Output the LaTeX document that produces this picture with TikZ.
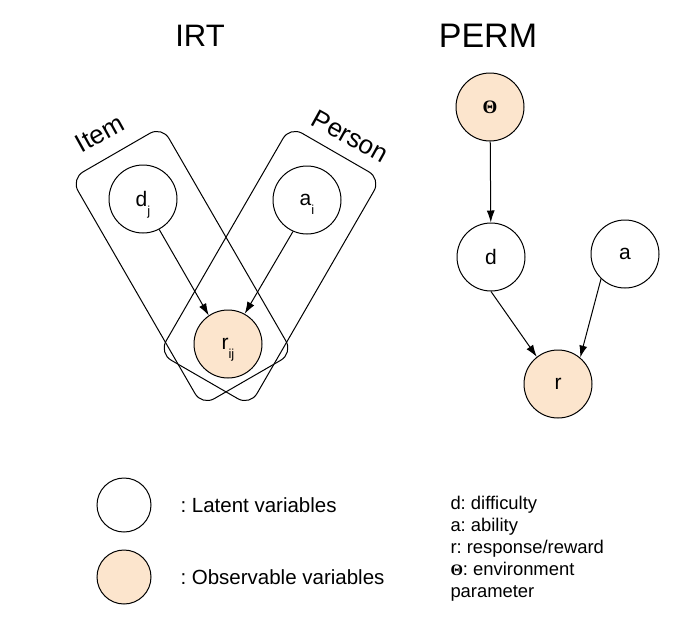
\documentclass[tikz,border=0pt]{standalone}
\usepackage{amsmath}
\usepackage{xcolor}
\usepackage[no-math]{fontspec}
\setmainfont{Liberation Sans}
\newfontfamily\thetafont{Liberation Serif}
\usetikzlibrary{arrows.meta}
\definecolor{obsfill}{RGB}{252,229,205}
\newcommand{\lowsub}[1]{\raisebox{-9pt}[0pt][0pt]{\fontsize{13}{13}\selectfont #1}}
\newcommand{\boldtheta}{{\thetafont\bfseries Θ}}
\frenchspacing

\begin{document}
\begin{tikzpicture}[x=1pt,y=-1pt,line width=1pt,
    var/.style={circle,draw=black,minimum size=68pt,inner sep=0pt,font=\fontsize{21}{25}\selectfont},
    obs/.style={var,fill=obsfill},
    plate/.style={draw=black,rounded corners=14pt,minimum width=105pt,minimum height=262pt},
    >={Latex[length=12pt,width=8pt]}]
    \useasboundingbox (0,0) rectangle (679,643);
    \node[anchor=base,font=\fontsize{31}{36}\selectfont](irt)at(200,46){IRT};
    \node[anchor=base,font=\fontsize{34}{40}\selectfont](perm)at(488,47){PERM};
    \node[plate,rotate=30](item)at(182,266){};
    \node[plate,rotate=-30](person)at(270,266){};
    \node[rotate=29,anchor=base,inner sep=0pt,font=\fontsize{26}{30}\selectfont](itemlab)at(104,141){Item};
    \node[rotate=-29,anchor=base,inner sep=0pt,font=\fontsize{26}{30}\selectfont](personlab)at(346,144){Person};
    \node[var](dj)at(143,199){d\lowsub{j}};
    \node[var](ai)at(307,200){a\lowsub{i}};
    \node[obs](rij)at(228,344){r\lowsub{ij}};
    \node[obs,font=\fontsize{19}{22}\selectfont](th)at(490,107){\boldtheta};
    \node[var](d)at(491,257){d};
    \node[var](a)at(625,254){a};
    \node[obs](r)at(558,384){r};
    \draw[->] (dj.-62) -- (rij.124);
    \draw[->] (ai.-114) -- (rij.61);
    \draw[->] (th) -- (d);
    \draw[->] (d.south) -- (r.128);
    \draw[->] (a.226) -- (r.50);
    \node[var,minimum size=54pt](l1)at(124,505){};
    \node[obs,minimum size=54pt](l2)at(124,577){};
    \node[anchor=west,inner sep=0pt,font=\fontsize{20.5}{24}\selectfont](t1)at(180,505){: Latent variables};
    \node[anchor=west,inner sep=0pt,font=\fontsize{20.5}{24}\selectfont](t2)at(180,577){: Observable variables};
    \node[anchor=north west,inner sep=0pt,align=left,font=\fontsize{18.4}{22}\selectfont](key)at(450,496){d: difficulty\\a: ability\\r: response/reward\\{\fontsize{16}{22}\selectfont\boldtheta}: environment\\parameter};
\end{tikzpicture}
\end{document}
